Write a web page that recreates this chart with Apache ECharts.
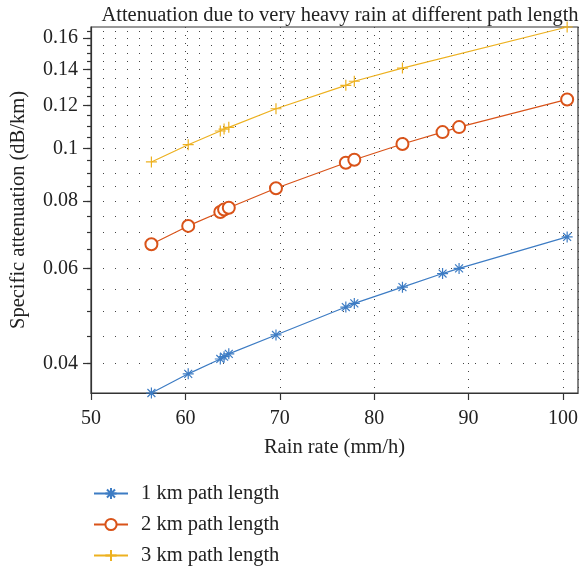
<!DOCTYPE html>
<html>
<head>
<meta charset="utf-8">
<script src="https://cdn.jsdelivr.net/npm/echarts@6/dist/echarts.min.js"></script>
<style>html,body{margin:0;padding:0;background:#fff;}#c{width:583px;height:578px;}</style>
</head>
<body>
<div id="c"></div>
<script>
var rainRate1 = [56.4, 60.3, 63.7, 64.1, 64.6, 69.6, 77.0, 77.9, 83.0, 87.25, 89.0, 100.45];
var atten1km = [0.0353, 0.0383, 0.0408, 0.0412, 0.0417, 0.0452, 0.0509, 0.0517, 0.0554, 0.0587, 0.0600, 0.0686];
var rainRate2 = [56.4, 60.3, 63.7, 64.1, 64.6, 69.6, 77.0, 77.9, 83.0, 87.25, 89.0, 100.45];
var atten2km = [0.0665, 0.0719, 0.0763, 0.0771, 0.0777, 0.0844, 0.0941, 0.0953, 0.1019, 0.1072, 0.1095, 0.1232];
var rainRate3 = [56.4, 60.3, 63.7, 64.1, 64.6, 69.6, 77.0, 77.9, 83.0, 100.45];
var atten3km = [0.0944, 0.1016, 0.1077, 0.1086, 0.1094, 0.1184, 0.1308, 0.1331, 0.1408, 0.1677];
var yLabels = [0.04, 0.06, 0.08, 0.1, 0.12, 0.14, 0.16];
var yMinorTicks = [0.035,0.04,0.045,0.05,0.055,0.06,0.065,0.07,0.075,0.08,0.085,0.09,0.095,0.1,0.105,0.11,0.115,0.12,0.125,0.13,0.135,0.14,0.145,0.15,0.155,0.16,0.165];
var seriesNames = ['1 km path length', '2 km path length', '3 km path length'];

function pairs(xs, ys) { return xs.map(function (x, i) { return [x, ys[i]]; }); }

var FONT = 'Liberation Serif';
var AX = '#333333';
var asterisk = 'path://M0,-5L0,5M-5,0L5,0M-3.6,-3.6L3.6,3.6M-3.6,3.6L3.6,-3.6';
var plus = 'path://M0,-5L0,5M-5,0L5,0';

var chart = echarts.init(document.getElementById('c'), null, {renderer: 'canvas'});
chart.setOption({
  animation: false,
  backgroundColor: '#ffffff',
  title: {
    text: 'Attenuation due to very heavy rain at different path length',
    left: 335, top: 0, textAlign: 'center',
    textStyle: {fontFamily: FONT, fontSize: 20.5, fontWeight: 'normal', color: '#222'}
  },
  grid: {left: 91, right: 5, top: 27, bottom: 185, show: true, borderColor: AX, borderWidth: 1.2, backgroundColor: 'transparent'},
  legend: {
    orient: 'vertical', left: 88, top: 478, itemGap: 10,
    itemWidth: 34, itemHeight: 14,
    textStyle: {fontFamily: FONT, fontSize: 20.5, color: '#222', padding: [0, 0, 0, 8]},
    data: seriesNames
  },
  xAxis: {
    type: 'value', min: 50, max: 101.6, interval: 10,
    name: 'Rain rate (mm/h)', nameLocation: 'middle', nameGap: 44,
    nameTextStyle: {fontFamily: FONT, fontSize: 20.5, color: '#222'},
    axisLine: {show: true, lineStyle: {color: AX, width: 1.2}},
    axisTick: {show: true, inside: false, length: 7, lineStyle: {color: AX, width: 1.2}},
    axisLabel: {fontFamily: FONT, fontSize: 20, color: '#222', margin: 16, showMaxLabel: false},
    splitLine: {show: true, lineStyle: {color: '#444', width: 1, type: [1, 7]}}
  },
  yAxis: [{
    type: 'log', logBase: 10, min: 0.0353, max: 0.1677,
    name: 'Specific attenuation (dB/km)', nameLocation: 'middle', nameGap: 62,
    nameTextStyle: {fontFamily: FONT, fontSize: 20.5, color: '#222'},
    axisLine: {show: true, lineStyle: {color: AX, width: 1.2}},
    axisTick: {show: true, inside: false, length: 8, customValues: yLabels, lineStyle: {color: AX, width: 1.2}},
    axisLabel: {fontFamily: FONT, fontSize: 20, color: '#222', margin: 13, customValues: yLabels,
      formatter: function (v) { return String(+v.toFixed(3)); }},
    splitLine: {show: false},
    minorTick: {show: false}, minorSplitLine: {show: false}
  }, {
    type: 'log', logBase: 10, min: 0.0353, max: 0.1677, position: 'left',
    axisLine: {show: false},
    axisTick: {show: true, inside: false, length: 4, customValues: yMinorTicks, lineStyle: {color: AX, width: 1.2}},
    axisLabel: {show: false},
    splitLine: {show: true, lineStyle: {color: '#444', width: 1, type: [1, 11]}}
  }],
  series: [{
    name: seriesNames[0], type: 'line', data: pairs(rainRate1, atten1km),
    symbol: asterisk, symbolSize: 11,
    lineStyle: {color: '#3d7cc4', width: 1.2},
    itemStyle: {color: '#3d7cc4', borderColor: '#3d7cc4', borderWidth: 1.2},
    color: '#3d7cc4'
  }, {
    name: seriesNames[1], type: 'line', data: pairs(rainRate2, atten2km),
    symbol: 'emptyCircle', symbolSize: 12,
    lineStyle: {color: '#d95319', width: 1.2},
    itemStyle: {color: '#d95319', borderColor: '#d95319', borderWidth: 1.2},
    color: '#d95319'
  }, {
    name: seriesNames[2], type: 'line', data: pairs(rainRate3, atten3km),
    symbol: plus, symbolSize: 11,
    lineStyle: {color: '#edb120', width: 1.2},
    itemStyle: {color: '#edb120', borderColor: '#edb120', borderWidth: 1.2},
    color: '#edb120'
  }]
});
</script>
</body>
</html>
